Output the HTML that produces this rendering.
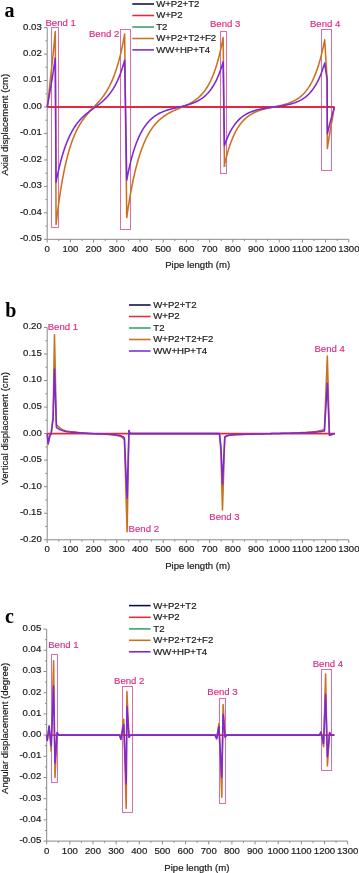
<!DOCTYPE html>
<html><head><meta charset="utf-8"><style>
html,body{margin:0;padding:0;background:#fff;}
svg{display:block;will-change:transform;}
text{font-family:"Liberation Sans",sans-serif;font-size:9.6px;fill:#1a1a1a;stroke:#1a1a1a;stroke-width:0.2px;}
.bd{fill:#dc2a86;stroke:#dc2a86;stroke-width:0.15px;}
.yt{font-size:9.6px;}
.pl{font-family:"Liberation Serif",serif;font-weight:bold;font-size:20px;fill:#000;stroke:none;}
</style></head><body>
<svg width="359" height="873" viewBox="0 0 359 873">
<rect width="359" height="873" fill="#fff"/>
<text x="4.5" y="16.6" class="pl">a</text>
<path d="M44.00,239.30H47.20M45.40,226.07H47.20M44.00,212.84H47.20M45.40,199.61H47.20M44.00,186.38H47.20M45.40,173.15H47.20M44.00,159.92H47.20M45.40,146.69H47.20M44.00,133.46H47.20M45.40,120.23H47.20M44.00,107.00H47.20M45.40,93.77H47.20M44.00,80.54H47.20M45.40,67.31H47.20M44.00,54.08H47.20M45.40,40.85H47.20M44.00,27.62H47.20M47.20,239.30V242.50M58.80,239.30V241.10M70.40,239.30V242.50M82.00,239.30V241.10M93.60,239.30V242.50M105.20,239.30V241.10M116.80,239.30V242.50M128.40,239.30V241.10M140.00,239.30V242.50M151.60,239.30V241.10M163.20,239.30V242.50M174.80,239.30V241.10M186.40,239.30V242.50M198.00,239.30V241.10M209.60,239.30V242.50M221.20,239.30V241.10M232.80,239.30V242.50M244.40,239.30V241.10M256.00,239.30V242.50M267.60,239.30V241.10M279.20,239.30V242.50M290.80,239.30V241.10M302.40,239.30V242.50M314.00,239.30V241.10M325.60,239.30V242.50M337.20,239.30V241.10M348.80,239.30V242.50" fill="none" stroke="#8a8a8a" stroke-width="1"/>
<path d="M47.20,27.62V239.30H348.80" fill="none" stroke="#8a8a8a" stroke-width="1"/>
<text x="41.80" y="241.20" text-anchor="end">-0.05</text>
<text x="41.80" y="214.74" text-anchor="end">-0.04</text>
<text x="41.80" y="188.28" text-anchor="end">-0.03</text>
<text x="41.80" y="161.82" text-anchor="end">-0.02</text>
<text x="41.80" y="135.36" text-anchor="end">-0.01</text>
<text x="41.80" y="108.90" text-anchor="end">0.00</text>
<text x="41.80" y="82.44" text-anchor="end">0.01</text>
<text x="41.80" y="55.98" text-anchor="end">0.02</text>
<text x="41.80" y="29.52" text-anchor="end">0.03</text>
<text x="47.20" y="251.90" text-anchor="middle">0</text>
<text x="70.40" y="251.90" text-anchor="middle">100</text>
<text x="93.60" y="251.90" text-anchor="middle">200</text>
<text x="116.80" y="251.90" text-anchor="middle">300</text>
<text x="140.00" y="251.90" text-anchor="middle">400</text>
<text x="163.20" y="251.90" text-anchor="middle">500</text>
<text x="186.40" y="251.90" text-anchor="middle">600</text>
<text x="209.60" y="251.90" text-anchor="middle">700</text>
<text x="232.80" y="251.90" text-anchor="middle">800</text>
<text x="256.00" y="251.90" text-anchor="middle">900</text>
<text x="279.20" y="251.90" text-anchor="middle">1000</text>
<text x="302.40" y="251.90" text-anchor="middle">1100</text>
<text x="325.60" y="251.90" text-anchor="middle">1200</text>
<text x="348.80" y="251.90" text-anchor="middle">1300</text>
<text x="197.70" y="268.20" text-anchor="middle">Pipe length (m)</text>
<text transform="translate(7.7,124.6) rotate(-90)" text-anchor="middle" class="yt">Axial displacement (cm)</text>
<rect x="51.50" y="27.50" width="7.00" height="200.00" fill="none" stroke="#dc6cb0" stroke-width="1"/>
<rect x="120.50" y="29.50" width="10.00" height="200.00" fill="none" stroke="#dc6cb0" stroke-width="1"/>
<rect x="220.50" y="31.50" width="6.00" height="142.00" fill="none" stroke="#dc6cb0" stroke-width="1"/>
<rect x="321.50" y="29.50" width="10.00" height="141.00" fill="none" stroke="#dc6cb0" stroke-width="1"/>
<path d="M47.30,107.00 L334.42,107.00" fill="none" stroke="#e42a3a" stroke-width="1.8" stroke-linejoin="round" stroke-linecap="butt"/>
<path d="M224.43,165.21 L224.43,166.80" fill="none" stroke="#35a06a" stroke-width="2.0" stroke-linejoin="round" stroke-linecap="butt"/>
<path d="M47.30,107.00 L47.70,103.51 L48.10,100.01 L48.50,96.51 L48.89,93.00 L49.29,89.46 L49.69,85.91 L50.09,82.33 L50.49,78.73 L50.89,75.09 L51.28,71.41 L51.68,67.69 L52.08,63.92 L52.48,60.11 L52.88,56.24 L53.28,52.31 L53.67,48.31 L54.07,44.25 L54.47,40.11 L54.87,35.89 L55.27,31.59 L56.08,224.48 L56.42,221.48 L56.77,218.56 L57.11,215.71 L57.45,212.93 L57.80,210.22 L58.14,207.58 L58.48,205.01 L58.82,202.50 L59.17,200.06 L59.51,197.67 L59.85,195.35 L60.20,193.08 L60.54,190.87 L60.88,188.71 L61.22,186.61 L61.57,184.56 L61.91,182.57 L62.25,180.62 L62.60,178.72 L62.94,176.87 L63.28,175.06 L63.62,173.30 L63.97,171.59 L64.31,169.91 L64.65,168.28 L65.00,166.69 L65.34,165.13 L65.68,163.62 L66.02,162.14 L66.37,160.70 L66.71,159.30 L67.05,157.92 L67.40,156.59 L67.74,155.28 L68.08,154.01 L68.42,152.77 L68.77,151.55 L69.11,150.37 L69.45,149.22 L69.80,148.09 L70.14,146.99 L70.48,145.92 L70.82,144.87 L71.17,143.85 L71.51,142.85 L71.85,141.88 L72.20,140.93 L72.54,140.00 L72.88,139.09 L73.22,138.20 L73.57,137.34 L73.91,136.49 L74.25,135.67 L74.60,134.86 L74.94,134.07 L75.28,133.30 L75.62,132.54 L75.97,131.81 L76.31,131.09 L76.65,130.38 L77.00,129.69 L77.34,129.02 L77.68,128.36 L78.02,127.71 L78.37,127.08 L78.71,126.46 L79.05,125.85 L79.40,125.26 L79.74,124.68 L80.08,124.10 L80.43,123.54 L80.77,123.00 L81.11,122.46 L81.45,121.93 L81.80,121.41 L82.14,120.90 L82.48,120.40 L82.83,119.91 L83.17,119.43 L83.51,118.95 L83.85,118.49 L84.20,118.03 L84.54,117.58 L84.88,117.13 L85.23,116.69 L85.57,116.26 L85.91,115.83 L86.25,115.41 L86.60,115.00 L86.94,114.59 L87.28,114.18 L87.63,113.78 L87.97,113.38 L88.31,112.99 L88.65,112.60 L89.00,112.22 L89.34,111.84 L89.68,111.46 L90.03,111.08 L90.37,110.71 L90.71,110.34 L91.05,109.97 L91.40,109.60 L91.74,109.24 L92.08,108.87 L92.43,108.51 L92.77,108.15 L93.11,107.78 L93.45,107.42 L93.80,107.06 L94.14,106.70 L94.48,106.34 L94.83,105.97 L95.17,105.61 L95.51,105.25 L95.85,104.88 L96.20,104.51 L96.54,104.14 L96.88,103.77 L97.23,103.40 L97.57,103.02 L97.91,102.64 L98.25,102.26 L98.60,101.87 L98.94,101.48 L99.28,101.08 L99.63,100.69 L99.97,100.28 L100.31,99.88 L100.65,99.46 L101.00,99.05 L101.34,98.62 L101.68,98.19 L102.03,97.76 L102.37,97.31 L102.71,96.87 L103.05,96.41 L103.40,95.95 L103.74,95.47 L104.08,94.99 L104.43,94.51 L104.77,94.01 L105.11,93.51 L105.45,92.99 L105.80,92.47 L106.14,91.93 L106.48,91.39 L106.83,90.83 L107.17,90.26 L107.51,89.68 L107.86,89.09 L108.20,88.49 L108.54,87.87 L108.88,87.24 L109.23,86.60 L109.57,85.94 L109.91,85.27 L110.26,84.58 L110.60,83.88 L110.94,83.16 L111.28,82.43 L111.63,81.67 L111.97,80.90 L112.31,80.12 L112.66,79.31 L113.00,78.48 L113.34,77.64 L113.68,76.77 L114.03,75.89 L114.37,74.98 L114.71,74.05 L115.06,73.09 L115.40,72.12 L115.74,71.12 L116.08,70.09 L116.43,69.04 L116.77,67.96 L117.11,66.86 L117.46,65.73 L117.80,64.57 L118.14,63.38 L118.48,62.16 L118.83,60.91 L119.17,59.62 L119.51,58.31 L119.86,56.96 L120.20,55.58 L120.54,54.16 L120.88,52.70 L121.23,51.21 L121.57,49.67 L121.91,48.10 L122.26,46.49 L122.60,44.84 L122.94,43.14 L123.28,41.40 L123.63,39.61 L123.97,37.78 L124.31,35.90 L124.66,33.97 L126.75,217.60 L127.23,214.21 L127.71,210.92 L128.19,207.73 L128.67,204.64 L129.16,201.65 L129.64,198.74 L130.12,195.93 L130.60,193.20 L131.08,190.55 L131.57,187.99 L132.05,185.50 L132.53,183.09 L133.01,180.76 L133.49,178.49 L133.98,176.30 L134.46,174.17 L134.94,172.10 L135.42,170.10 L135.91,168.16 L136.39,166.28 L136.87,164.46 L137.35,162.69 L137.83,160.98 L138.32,159.32 L138.80,157.71 L139.28,156.15 L139.76,154.63 L140.24,153.16 L140.73,151.74 L141.21,150.36 L141.69,149.02 L142.17,147.73 L142.65,146.47 L143.14,145.25 L143.62,144.07 L144.10,142.92 L144.58,141.81 L145.06,140.73 L145.55,139.68 L146.03,138.67 L146.51,137.69 L146.99,136.73 L147.47,135.81 L147.96,134.91 L148.44,134.04 L148.92,133.20 L149.40,132.38 L149.88,131.58 L150.37,130.81 L150.85,130.06 L151.33,129.34 L151.81,128.63 L152.29,127.95 L152.78,127.29 L153.26,126.64 L153.74,126.02 L154.22,125.41 L154.70,124.83 L155.19,124.25 L155.67,123.70 L156.15,123.16 L156.63,122.64 L157.11,122.13 L157.60,121.63 L158.08,121.16 L158.56,120.69 L159.04,120.24 L159.52,119.79 L160.01,119.37 L160.49,118.95 L160.97,118.54 L161.45,118.15 L161.93,117.77 L162.42,117.39 L162.90,117.03 L163.38,116.67 L163.86,116.33 L164.34,115.99 L164.83,115.66 L165.31,115.34 L165.79,115.03 L166.27,114.73 L166.75,114.43 L167.24,114.14 L167.72,113.85 L168.20,113.58 L168.68,113.30 L169.16,113.04 L169.65,112.78 L170.13,112.52 L170.61,112.27 L171.09,112.02 L171.57,111.78 L172.06,111.54 L172.54,111.31 L173.02,111.08 L173.50,110.85 L173.98,110.63 L174.47,110.40 L174.95,110.19 L175.43,109.97 L175.91,109.76 L176.39,109.54 L176.88,109.33 L177.36,109.12 L177.84,108.92 L178.32,108.71 L178.81,108.50 L179.29,108.30 L179.77,108.09 L180.25,107.89 L180.73,107.68 L181.22,107.48 L181.70,107.27 L182.18,107.06 L182.66,106.85 L183.14,106.65 L183.63,106.43 L184.11,106.22 L184.59,106.01 L185.07,105.79 L185.55,105.57 L186.04,105.34 L186.52,105.12 L187.00,104.89 L187.48,104.65 L187.96,104.42 L188.45,104.17 L188.93,103.93 L189.41,103.67 L189.89,103.42 L190.37,103.15 L190.86,102.89 L191.34,102.61 L191.82,102.33 L192.30,102.04 L192.78,101.74 L193.27,101.44 L193.75,101.13 L194.23,100.81 L194.71,100.48 L195.19,100.14 L195.68,99.79 L196.16,99.43 L196.64,99.06 L197.12,98.68 L197.60,98.28 L198.09,97.88 L198.57,97.46 L199.05,97.03 L199.53,96.58 L200.01,96.12 L200.50,95.64 L200.98,95.15 L201.46,94.64 L201.94,94.12 L202.42,93.57 L202.91,93.01 L203.39,92.43 L203.87,91.83 L204.35,91.21 L204.83,90.56 L205.32,89.89 L205.80,89.20 L206.28,88.49 L206.76,87.75 L207.24,86.98 L207.73,86.18 L208.21,85.36 L208.69,84.51 L209.17,83.62 L209.65,82.71 L210.14,81.76 L210.62,80.77 L211.10,79.75 L211.58,78.69 L212.06,77.60 L212.55,76.46 L213.03,75.28 L213.51,74.06 L213.99,72.79 L214.47,71.48 L214.96,70.11 L215.44,68.70 L215.92,67.23 L216.40,65.71 L216.88,64.14 L217.37,62.50 L217.85,60.81 L218.33,59.05 L218.81,57.22 L219.29,55.33 L219.78,53.37 L220.26,51.33 L220.74,49.22 L221.22,47.03 L221.71,44.75 L222.19,42.40 L222.67,39.95 L223.15,37.41 L224.43,165.21 L224.93,163.02 L225.43,160.90 L225.93,158.87 L226.43,156.91 L226.94,155.03 L227.44,153.22 L227.94,151.47 L228.44,149.79 L228.94,148.18 L229.44,146.62 L229.94,145.12 L230.44,143.68 L230.95,142.30 L231.45,140.96 L231.95,139.68 L232.45,138.44 L232.95,137.25 L233.45,136.11 L233.95,135.01 L234.45,133.95 L234.96,132.93 L235.46,131.94 L235.96,131.00 L236.46,130.09 L236.96,129.21 L237.46,128.37 L237.96,127.56 L238.47,126.78 L238.97,126.02 L239.47,125.30 L239.97,124.60 L240.47,123.93 L240.97,123.29 L241.47,122.66 L241.97,122.06 L242.48,121.49 L242.98,120.93 L243.48,120.40 L243.98,119.88 L244.48,119.39 L244.98,118.91 L245.48,118.45 L245.98,118.00 L246.49,117.58 L246.99,117.17 L247.49,116.77 L247.99,116.39 L248.49,116.02 L248.99,115.66 L249.49,115.32 L250.00,114.99 L250.50,114.67 L251.00,114.37 L251.50,114.07 L252.00,113.79 L252.50,113.51 L253.00,113.24 L253.50,112.99 L254.01,112.74 L254.51,112.50 L255.01,112.27 L255.51,112.05 L256.01,111.83 L256.51,111.62 L257.01,111.42 L257.51,111.22 L258.02,111.04 L258.52,110.85 L259.02,110.67 L259.52,110.50 L260.02,110.34 L260.52,110.17 L261.02,110.02 L261.53,109.86 L262.03,109.71 L262.53,109.57 L263.03,109.43 L263.53,109.29 L264.03,109.16 L264.53,109.03 L265.03,108.90 L265.54,108.77 L266.04,108.65 L266.54,108.53 L267.04,108.41 L267.54,108.30 L268.04,108.18 L268.54,108.07 L269.04,107.96 L269.55,107.85 L270.05,107.75 L270.55,107.64 L271.05,107.53 L271.55,107.43 L272.05,107.32 L272.55,107.22 L273.06,107.12 L273.56,107.01 L274.06,106.91 L274.56,106.81 L275.06,106.70 L275.56,106.60 L276.06,106.49 L276.56,106.39 L277.07,106.28 L277.57,106.18 L278.07,106.07 L278.57,105.96 L279.07,105.85 L279.57,105.73 L280.07,105.62 L280.57,105.50 L281.08,105.38 L281.58,105.26 L282.08,105.13 L282.58,105.01 L283.08,104.88 L283.58,104.74 L284.08,104.61 L284.59,104.47 L285.09,104.32 L285.59,104.18 L286.09,104.02 L286.59,103.87 L287.09,103.71 L287.59,103.54 L288.09,103.37 L288.60,103.20 L289.10,103.01 L289.60,102.83 L290.10,102.63 L290.60,102.43 L291.10,102.22 L291.60,102.01 L292.10,101.79 L292.61,101.56 L293.11,101.32 L293.61,101.08 L294.11,100.82 L294.61,100.56 L295.11,100.29 L295.61,100.00 L296.12,99.71 L296.62,99.41 L297.12,99.09 L297.62,98.77 L298.12,98.43 L298.62,98.08 L299.12,97.71 L299.62,97.33 L300.13,96.94 L300.63,96.53 L301.13,96.11 L301.63,95.67 L302.13,95.21 L302.63,94.74 L303.13,94.25 L303.63,93.74 L304.14,93.21 L304.64,92.66 L305.14,92.09 L305.64,91.50 L306.14,90.88 L306.64,90.24 L307.14,89.58 L307.65,88.89 L308.15,88.17 L308.65,87.42 L309.15,86.65 L309.65,85.85 L310.15,85.01 L310.65,84.14 L311.15,83.24 L311.66,82.31 L312.16,81.33 L312.66,80.32 L313.16,79.27 L313.66,78.18 L314.16,77.05 L314.66,75.87 L315.16,74.65 L315.67,73.38 L316.17,72.06 L316.67,70.68 L317.17,69.26 L317.67,67.78 L318.17,66.24 L318.67,64.64 L319.18,62.98 L319.68,61.25 L320.18,59.45 L320.68,57.59 L321.18,55.65 L321.68,53.64 L322.18,51.55 L322.68,49.37 L323.19,47.11 L323.69,44.77 L324.19,42.33 L324.69,39.79 L327.13,79.75 L327.34,148.54 L327.69,146.23 L328.05,143.96 L328.40,141.72 L328.75,139.51 L329.11,137.34 L329.46,135.19 L329.82,133.07 L330.17,130.97 L330.53,128.90 L330.88,126.84 L331.23,124.80 L331.59,122.78 L331.94,120.78 L332.30,118.79 L332.65,116.81 L333.01,114.83 L333.36,112.87 L333.71,110.91 L334.07,108.95 L334.42,107.00" fill="none" stroke="#c9711f" stroke-width="1.55" stroke-linejoin="round" stroke-linecap="butt"/>
<path d="M47.30,107.00 L47.70,104.73 L48.10,102.47 L48.50,100.19 L48.89,97.91 L49.29,95.62 L49.69,93.31 L50.09,90.99 L50.49,88.65 L50.89,86.28 L51.28,83.90 L51.68,81.48 L52.08,79.04 L52.48,76.56 L52.88,74.05 L53.28,71.50 L53.67,68.90 L54.07,66.26 L54.47,63.58 L54.87,60.84 L55.27,58.05 L56.08,182.15 L56.42,180.38 L56.77,178.65 L57.11,176.97 L57.45,175.32 L57.80,173.71 L58.14,172.14 L58.48,170.61 L58.82,169.11 L59.17,167.64 L59.51,166.21 L59.85,164.81 L60.20,163.45 L60.54,162.11 L60.88,160.81 L61.22,159.54 L61.57,158.29 L61.91,157.08 L62.25,155.89 L62.60,154.73 L62.94,153.59 L63.28,152.48 L63.62,151.40 L63.97,150.34 L64.31,149.31 L64.65,148.30 L65.00,147.31 L65.34,146.34 L65.68,145.40 L66.02,144.48 L66.37,143.58 L66.71,142.70 L67.05,141.84 L67.40,140.99 L67.74,140.17 L68.08,139.37 L68.42,138.58 L68.77,137.81 L69.11,137.06 L69.45,136.32 L69.80,135.61 L70.14,134.90 L70.48,134.21 L70.82,133.54 L71.17,132.88 L71.51,132.24 L71.85,131.61 L72.20,131.00 L72.54,130.39 L72.88,129.80 L73.22,129.23 L73.57,128.66 L73.91,128.11 L74.25,127.57 L74.60,127.04 L74.94,126.52 L75.28,126.01 L75.62,125.51 L75.97,125.02 L76.31,124.55 L76.65,124.08 L77.00,123.62 L77.34,123.17 L77.68,122.73 L78.02,122.30 L78.37,121.87 L78.71,121.46 L79.05,121.05 L79.40,120.65 L79.74,120.26 L80.08,119.87 L80.43,119.49 L80.77,119.12 L81.11,118.76 L81.45,118.40 L81.80,118.05 L82.14,117.70 L82.48,117.36 L82.83,117.02 L83.17,116.69 L83.51,116.37 L83.85,116.05 L84.20,115.73 L84.54,115.42 L84.88,115.12 L85.23,114.81 L85.57,114.52 L85.91,114.22 L86.25,113.93 L86.60,113.64 L86.94,113.36 L87.28,113.08 L87.63,112.80 L87.97,112.53 L88.31,112.26 L88.65,111.99 L89.00,111.72 L89.34,111.46 L89.68,111.19 L90.03,110.93 L90.37,110.67 L90.71,110.42 L91.05,110.16 L91.40,109.91 L91.74,109.65 L92.08,109.40 L92.43,109.15 L92.77,108.90 L93.11,108.65 L93.45,108.40 L93.80,108.15 L94.14,107.90 L94.48,107.65 L94.83,107.40 L95.17,107.15 L95.51,106.90 L95.85,106.64 L96.20,106.39 L96.54,106.14 L96.88,105.88 L97.23,105.63 L97.57,105.37 L97.91,105.11 L98.25,104.85 L98.60,104.58 L98.94,104.32 L99.28,104.05 L99.63,103.78 L99.97,103.50 L100.31,103.23 L100.65,102.95 L101.00,102.67 L101.34,102.38 L101.68,102.09 L102.03,101.80 L102.37,101.50 L102.71,101.20 L103.05,100.89 L103.40,100.58 L103.74,100.26 L104.08,99.94 L104.43,99.62 L104.77,99.29 L105.11,98.95 L105.45,98.61 L105.80,98.26 L106.14,97.90 L106.48,97.54 L106.83,97.17 L107.17,96.79 L107.51,96.41 L107.86,96.02 L108.20,95.62 L108.54,95.21 L108.88,94.80 L109.23,94.38 L109.57,93.94 L109.91,93.50 L110.26,93.05 L110.60,92.59 L110.94,92.11 L111.28,91.63 L111.63,91.14 L111.97,90.63 L112.31,90.12 L112.66,89.59 L113.00,89.05 L113.34,88.50 L113.68,87.93 L114.03,87.35 L114.37,86.76 L114.71,86.16 L115.06,85.53 L115.40,84.90 L115.74,84.25 L116.08,83.58 L116.43,82.89 L116.77,82.19 L117.11,81.48 L117.46,80.74 L117.80,79.99 L118.14,79.21 L118.48,78.42 L118.83,77.61 L119.17,76.78 L119.51,75.92 L119.86,75.05 L120.20,74.15 L120.54,73.23 L120.88,72.29 L121.23,71.32 L121.57,70.33 L121.91,69.31 L122.26,68.27 L122.60,67.20 L122.94,66.10 L123.28,64.97 L123.63,63.82 L123.97,62.63 L124.31,61.41 L124.66,60.17 L126.75,180.03 L127.23,177.50 L127.71,175.05 L128.19,172.69 L128.67,170.41 L129.16,168.21 L129.64,166.09 L130.12,164.04 L130.60,162.06 L131.08,160.15 L131.57,158.30 L132.05,156.52 L132.53,154.80 L133.01,153.14 L133.49,151.54 L133.98,149.99 L134.46,148.50 L134.94,147.06 L135.42,145.66 L135.91,144.32 L136.39,143.02 L136.87,141.77 L137.35,140.56 L137.83,139.39 L138.32,138.26 L138.80,137.18 L139.28,136.12 L139.76,135.11 L140.24,134.13 L140.73,133.18 L141.21,132.27 L141.69,131.39 L142.17,130.54 L142.65,129.71 L143.14,128.92 L143.62,128.15 L144.10,127.41 L144.58,126.70 L145.06,126.01 L145.55,125.34 L146.03,124.70 L146.51,124.07 L146.99,123.47 L147.47,122.89 L147.96,122.33 L148.44,121.79 L148.92,121.27 L149.40,120.76 L149.88,120.27 L150.37,119.80 L150.85,119.34 L151.33,118.90 L151.81,118.48 L152.29,118.07 L152.78,117.67 L153.26,117.28 L153.74,116.91 L154.22,116.55 L154.70,116.20 L155.19,115.87 L155.67,115.54 L156.15,115.23 L156.63,114.92 L157.11,114.63 L157.60,114.34 L158.08,114.07 L158.56,113.80 L159.04,113.54 L159.52,113.29 L160.01,113.05 L160.49,112.81 L160.97,112.58 L161.45,112.36 L161.93,112.15 L162.42,111.94 L162.90,111.74 L163.38,111.54 L163.86,111.35 L164.34,111.16 L164.83,110.98 L165.31,110.81 L165.79,110.64 L166.27,110.47 L166.75,110.31 L167.24,110.15 L167.72,110.00 L168.20,109.84 L168.68,109.70 L169.16,109.55 L169.65,109.41 L170.13,109.27 L170.61,109.14 L171.09,109.01 L171.57,108.88 L172.06,108.75 L172.54,108.62 L173.02,108.50 L173.50,108.38 L173.98,108.26 L174.47,108.14 L174.95,108.02 L175.43,107.90 L175.91,107.79 L176.39,107.67 L176.88,107.56 L177.36,107.44 L177.84,107.33 L178.32,107.22 L178.81,107.10 L179.29,106.99 L179.77,106.88 L180.25,106.76 L180.73,106.65 L181.22,106.53 L181.70,106.42 L182.18,106.30 L182.66,106.18 L183.14,106.07 L183.63,105.95 L184.11,105.82 L184.59,105.70 L185.07,105.57 L185.55,105.45 L186.04,105.32 L186.52,105.18 L187.00,105.05 L187.48,104.91 L187.96,104.77 L188.45,104.63 L188.93,104.48 L189.41,104.33 L189.89,104.18 L190.37,104.02 L190.86,103.86 L191.34,103.69 L191.82,103.52 L192.30,103.34 L192.78,103.16 L193.27,102.97 L193.75,102.78 L194.23,102.58 L194.71,102.38 L195.19,102.17 L195.68,101.95 L196.16,101.73 L196.64,101.50 L197.12,101.26 L197.60,101.01 L198.09,100.76 L198.57,100.49 L199.05,100.22 L199.53,99.94 L200.01,99.65 L200.50,99.35 L200.98,99.03 L201.46,98.71 L201.94,98.38 L202.42,98.03 L202.91,97.67 L203.39,97.30 L203.87,96.92 L204.35,96.52 L204.83,96.11 L205.32,95.68 L205.80,95.24 L206.28,94.78 L206.76,94.30 L207.24,93.81 L207.73,93.30 L208.21,92.77 L208.69,92.22 L209.17,91.65 L209.65,91.06 L210.14,90.45 L210.62,89.81 L211.10,89.16 L211.58,88.47 L212.06,87.77 L212.55,87.03 L213.03,86.27 L213.51,85.48 L213.99,84.66 L214.47,83.81 L214.96,82.93 L215.44,82.02 L215.92,81.07 L216.40,80.09 L216.88,79.07 L217.37,78.01 L217.85,76.91 L218.33,75.77 L218.81,74.59 L219.29,73.37 L219.78,72.09 L220.26,70.77 L220.74,69.41 L221.22,67.99 L221.71,66.51 L222.19,64.98 L222.67,63.40 L223.15,61.75 L224.43,145.63 L224.93,144.17 L225.43,142.77 L225.93,141.42 L226.43,140.12 L226.94,138.87 L227.44,137.67 L227.94,136.51 L228.44,135.40 L228.94,134.33 L229.44,133.29 L229.94,132.30 L230.44,131.35 L230.95,130.43 L231.45,129.54 L231.95,128.69 L232.45,127.87 L232.95,127.08 L233.45,126.32 L233.95,125.59 L234.45,124.88 L234.96,124.21 L235.46,123.55 L235.96,122.93 L236.46,122.32 L236.96,121.74 L237.46,121.18 L237.96,120.64 L238.47,120.13 L238.97,119.63 L239.47,119.15 L239.97,118.68 L240.47,118.24 L240.97,117.81 L241.47,117.40 L241.97,117.00 L242.48,116.62 L242.98,116.25 L243.48,115.89 L243.98,115.55 L244.48,115.22 L244.98,114.90 L245.48,114.60 L245.98,114.30 L246.49,114.02 L246.99,113.75 L247.49,113.49 L247.99,113.23 L248.49,112.99 L248.99,112.75 L249.49,112.52 L250.00,112.31 L250.50,112.10 L251.00,111.89 L251.50,111.70 L252.00,111.51 L252.50,111.32 L253.00,111.15 L253.50,110.98 L254.01,110.81 L254.51,110.65 L255.01,110.50 L255.51,110.35 L256.01,110.21 L256.51,110.07 L257.01,109.94 L257.51,109.81 L258.02,109.68 L258.52,109.56 L259.02,109.44 L259.52,109.33 L260.02,109.22 L260.52,109.11 L261.02,109.01 L261.53,108.91 L262.03,108.81 L262.53,108.71 L263.03,108.62 L263.53,108.53 L264.03,108.44 L264.53,108.35 L265.03,108.27 L265.54,108.18 L266.04,108.10 L266.54,108.02 L267.04,107.95 L267.54,107.87 L268.04,107.79 L268.54,107.72 L269.04,107.65 L269.55,107.58 L270.05,107.50 L270.55,107.43 L271.05,107.36 L271.55,107.30 L272.05,107.23 L272.55,107.16 L273.06,107.09 L273.56,107.02 L274.06,106.95 L274.56,106.89 L275.06,106.82 L275.56,106.75 L276.06,106.68 L276.56,106.61 L277.07,106.54 L277.57,106.47 L278.07,106.40 L278.57,106.33 L279.07,106.25 L279.57,106.18 L280.07,106.10 L280.57,106.03 L281.08,105.95 L281.58,105.87 L282.08,105.79 L282.58,105.70 L283.08,105.62 L283.58,105.53 L284.08,105.44 L284.59,105.35 L285.09,105.26 L285.59,105.16 L286.09,105.06 L286.59,104.96 L287.09,104.85 L287.59,104.74 L288.09,104.63 L288.60,104.52 L289.10,104.40 L289.60,104.28 L290.10,104.15 L290.60,104.02 L291.10,103.88 L291.60,103.74 L292.10,103.60 L292.61,103.45 L293.11,103.29 L293.61,103.13 L294.11,102.97 L294.61,102.79 L295.11,102.62 L295.61,102.43 L296.12,102.24 L296.62,102.04 L297.12,101.83 L297.62,101.62 L298.12,101.40 L298.62,101.17 L299.12,100.93 L299.62,100.68 L300.13,100.43 L300.63,100.16 L301.13,99.88 L301.63,99.60 L302.13,99.30 L302.63,98.99 L303.13,98.67 L303.63,98.34 L304.14,97.99 L304.64,97.63 L305.14,97.26 L305.64,96.87 L306.14,96.47 L306.64,96.05 L307.14,95.61 L307.65,95.16 L308.15,94.69 L308.65,94.21 L309.15,93.70 L309.65,93.18 L310.15,92.63 L310.65,92.06 L311.15,91.47 L311.66,90.86 L312.16,90.23 L312.66,89.57 L313.16,88.88 L313.66,88.17 L314.16,87.43 L314.66,86.66 L315.16,85.86 L315.67,85.03 L316.17,84.16 L316.67,83.27 L317.17,82.33 L317.67,81.37 L318.17,80.36 L318.67,79.32 L319.18,78.23 L319.68,77.10 L320.18,75.93 L320.68,74.71 L321.18,73.44 L321.68,72.13 L322.18,70.76 L322.68,69.34 L323.19,67.86 L323.69,66.33 L324.19,64.73 L324.69,63.08 L327.13,79.75 L327.34,133.72 L327.69,132.24 L328.05,130.78 L328.40,129.34 L328.75,127.92 L329.11,126.52 L329.46,125.14 L329.82,123.77 L330.17,122.42 L330.53,121.09 L330.88,119.76 L331.23,118.45 L331.59,117.15 L331.94,115.86 L332.30,114.58 L332.65,113.31 L333.01,112.04 L333.36,110.78 L333.71,109.52 L334.07,108.26 L334.42,107.00" fill="none" stroke="#7c28d8" stroke-width="1.55" stroke-linejoin="round" stroke-linecap="butt"/>
<text class="bd" x="45.40" y="25.80">Bend 1</text>
<text class="bd" x="88.90" y="36.80">Bend 2</text>
<text class="bd" x="209.90" y="26.60">Bend 3</text>
<text class="bd" x="309.90" y="27.20">Bend 4</text>
<path d="M132.30,4.00H154.00" stroke="#0c0c44" stroke-width="1.55"/>
<text x="156.20" y="6.90">W+P2+T2</text>
<path d="M132.30,15.50H154.00" stroke="#e42a3a" stroke-width="1.55"/>
<text x="156.20" y="18.40">W+P2</text>
<path d="M132.30,27.00H154.00" stroke="#35a06a" stroke-width="1.55"/>
<text x="156.20" y="29.90">T2</text>
<path d="M132.30,38.50H154.00" stroke="#c9711f" stroke-width="1.55"/>
<text x="156.20" y="41.40">W+P2+T2+F2</text>
<path d="M132.30,49.90H154.00" stroke="#7c28d8" stroke-width="1.55"/>
<text x="156.20" y="52.80">WW+HP+T4</text>
<text x="5.2" y="316.9" class="pl">b</text>
<path d="M44.00,539.80H47.20M45.40,526.53H47.20M44.00,513.25H47.20M45.40,499.98H47.20M44.00,486.70H47.20M45.40,473.43H47.20M44.00,460.15H47.20M45.40,446.88H47.20M44.00,433.60H47.20M45.40,420.33H47.20M44.00,407.05H47.20M45.40,393.78H47.20M44.00,380.50H47.20M45.40,367.23H47.20M44.00,353.95H47.20M45.40,340.68H47.20M44.00,327.40H47.20M47.20,539.80V543.00M58.80,539.80V541.60M70.40,539.80V543.00M82.00,539.80V541.60M93.60,539.80V543.00M105.20,539.80V541.60M116.80,539.80V543.00M128.40,539.80V541.60M140.00,539.80V543.00M151.60,539.80V541.60M163.20,539.80V543.00M174.80,539.80V541.60M186.40,539.80V543.00M198.00,539.80V541.60M209.60,539.80V543.00M221.20,539.80V541.60M232.80,539.80V543.00M244.40,539.80V541.60M256.00,539.80V543.00M267.60,539.80V541.60M279.20,539.80V543.00M290.80,539.80V541.60M302.40,539.80V543.00M314.00,539.80V541.60M325.60,539.80V543.00M337.20,539.80V541.60M348.80,539.80V543.00" fill="none" stroke="#8a8a8a" stroke-width="1"/>
<path d="M47.20,327.40V539.80H348.80" fill="none" stroke="#8a8a8a" stroke-width="1"/>
<text x="41.80" y="541.70" text-anchor="end">-0.20</text>
<text x="41.80" y="515.15" text-anchor="end">-0.15</text>
<text x="41.80" y="488.60" text-anchor="end">-0.10</text>
<text x="41.80" y="462.05" text-anchor="end">-0.05</text>
<text x="41.80" y="435.50" text-anchor="end">0.00</text>
<text x="41.80" y="408.95" text-anchor="end">0.05</text>
<text x="41.80" y="382.40" text-anchor="end">0.10</text>
<text x="41.80" y="355.85" text-anchor="end">0.15</text>
<text x="41.80" y="329.30" text-anchor="end">0.20</text>
<text x="47.20" y="552.40" text-anchor="middle">0</text>
<text x="70.40" y="552.40" text-anchor="middle">100</text>
<text x="93.60" y="552.40" text-anchor="middle">200</text>
<text x="116.80" y="552.40" text-anchor="middle">300</text>
<text x="140.00" y="552.40" text-anchor="middle">400</text>
<text x="163.20" y="552.40" text-anchor="middle">500</text>
<text x="186.40" y="552.40" text-anchor="middle">600</text>
<text x="209.60" y="552.40" text-anchor="middle">700</text>
<text x="232.80" y="552.40" text-anchor="middle">800</text>
<text x="256.00" y="552.40" text-anchor="middle">900</text>
<text x="279.20" y="552.40" text-anchor="middle">1000</text>
<text x="302.40" y="552.40" text-anchor="middle">1100</text>
<text x="325.60" y="552.40" text-anchor="middle">1200</text>
<text x="348.80" y="552.40" text-anchor="middle">1300</text>
<text x="197.70" y="568.70" text-anchor="middle">Pipe length (m)</text>
<text transform="translate(7.7,428.4) rotate(-90)" text-anchor="middle" class="yt">Vertical displacement (cm)</text>
<path d="M47.30,433.60 L334.77,433.60" fill="none" stroke="#e42a3a" stroke-width="1.8" stroke-linejoin="round" stroke-linecap="butt"/>
<path d="M47.30,433.60 L48.14,444.19 L49.97,435.19 L51.13,433.87 L53.11,415.68 L54.48,334.83 L56.41,424.57 L56.72,424.88 L57.03,425.19 L57.35,425.50 L57.66,425.81 L57.97,426.12 L58.29,426.42 L58.60,426.70 L58.91,426.96 L59.35,427.31 L59.79,427.65 L60.22,427.97 L60.66,428.29 L61.09,428.58 L61.53,428.86 L61.96,429.12 L62.40,429.35 L62.89,429.60 L63.39,429.85 L63.88,430.08 L64.37,430.30 L64.87,430.50 L65.36,430.67 L65.85,430.82 L66.35,430.95 L67.63,431.19 L68.90,431.41 L70.18,431.59 L71.46,431.74 L72.74,431.88 L74.01,432.01 L75.29,432.14 L76.57,432.27 L78.37,432.47 L80.17,432.66 L81.97,432.84 L83.77,433.02 L85.57,433.18 L87.37,433.34 L89.17,433.48 L90.97,433.60 L93.03,433.72 L95.10,433.82 L97.16,433.90 L99.22,433.98 L101.28,434.06 L103.34,434.15 L105.40,434.26 L107.47,434.40 L108.77,434.50 L110.08,434.61 L111.39,434.74 L112.69,434.89 L114.00,435.06 L115.31,435.25 L116.61,435.47 L117.92,435.72 L118.44,435.84 L118.96,435.98 L119.49,436.13 L120.01,436.31 L120.53,436.52 L121.06,436.76 L121.58,437.02 L122.10,437.32 L122.39,437.53 L122.68,437.80 L122.97,438.13 L123.26,438.49 L123.55,438.87 L123.84,439.25 L124.13,439.62 L124.42,439.97 L127.10,531.84 L128.95,430.57 L130.11,433.60 L219.43,433.60 L220.94,452.72 L222.45,510.06 L224.78,437.42 L225.10,437.23 L225.42,437.02 L225.74,436.80 L226.05,436.59 L226.37,436.39 L226.69,436.21 L227.01,436.05 L227.33,435.94 L227.94,435.76 L228.55,435.61 L229.16,435.48 L229.77,435.36 L230.38,435.25 L230.99,435.17 L231.60,435.09 L232.21,435.03 L233.78,434.91 L235.35,434.80 L236.91,434.71 L238.48,434.63 L240.05,434.56 L241.62,434.50 L243.19,434.45 L244.75,434.40 L246.93,434.33 L249.11,434.27 L251.29,434.22 L253.47,434.17 L255.64,434.13 L257.82,434.08 L260.00,434.03 L262.18,433.97 L263.48,433.93 L264.79,433.89 L266.10,433.84 L267.40,433.79 L268.71,433.74 L270.02,433.69 L271.32,433.64 L272.63,433.60 L274.95,433.53 L277.28,433.47 L279.60,433.40 L281.92,433.34 L284.25,433.28 L286.57,433.22 L288.89,433.15 L291.22,433.07 L293.25,432.99 L295.28,432.91 L297.31,432.83 L299.35,432.73 L301.38,432.63 L303.41,432.52 L305.44,432.40 L307.48,432.27 L308.64,432.19 L309.80,432.10 L310.96,432.01 L312.12,431.90 L313.28,431.79 L314.44,431.66 L315.61,431.52 L316.77,431.37 L317.35,431.28 L317.93,431.19 L318.51,431.08 L319.09,430.97 L319.67,430.84 L320.25,430.71 L320.83,430.56 L321.41,430.41 L321.79,430.31 L322.17,430.19 L322.55,430.05 L322.92,429.92 L323.30,429.77 L323.68,429.63 L324.06,429.49 L324.43,429.35 L327.34,356.07 L329.43,435.19 L334.77,433.60" fill="none" stroke="#c9711f" stroke-width="1.55" stroke-linejoin="round" stroke-linecap="butt"/>
<path d="M47.30,433.60 L48.14,443.69 L49.97,435.19 L51.13,433.87 L53.11,419.26 L54.48,369.35 L56.41,427.49 L56.72,427.70 L57.03,427.91 L57.35,428.12 L57.66,428.33 L57.97,428.54 L58.29,428.73 L58.60,428.92 L58.91,429.09 L59.35,429.30 L59.79,429.50 L60.22,429.69 L60.66,429.87 L61.09,430.05 L61.53,430.21 L61.96,430.37 L62.40,430.52 L62.89,430.69 L63.39,430.87 L63.88,431.04 L64.37,431.20 L64.87,431.36 L65.36,431.49 L65.85,431.60 L66.35,431.69 L67.63,431.85 L68.90,431.99 L70.18,432.10 L71.46,432.19 L72.74,432.28 L74.01,432.36 L75.29,432.44 L76.57,432.54 L78.37,432.68 L80.17,432.83 L81.97,432.98 L83.77,433.12 L85.57,433.26 L87.37,433.39 L89.17,433.50 L90.97,433.60 L93.03,433.69 L95.10,433.76 L97.16,433.82 L99.22,433.88 L101.28,433.94 L103.34,434.01 L105.40,434.09 L107.47,434.18 L108.77,434.26 L110.08,434.35 L111.39,434.45 L112.69,434.56 L114.00,434.69 L115.31,434.84 L116.61,435.01 L117.92,435.19 L118.44,435.28 L118.96,435.37 L119.49,435.48 L120.01,435.60 L120.53,435.74 L121.06,435.89 L121.58,436.06 L122.10,436.25 L122.39,436.39 L122.68,436.56 L122.97,436.75 L123.26,436.96 L123.55,437.19 L123.84,437.42 L124.13,437.64 L124.42,437.85 L127.10,498.38 L128.95,430.57 L130.11,433.60 L219.43,433.60 L220.94,446.21 L222.45,484.05 L224.78,437.00 L225.10,436.82 L225.42,436.62 L225.74,436.42 L226.05,436.22 L226.37,436.04 L226.69,435.87 L227.01,435.73 L227.33,435.62 L227.94,435.46 L228.55,435.31 L229.16,435.18 L229.77,435.07 L230.38,434.97 L230.99,434.88 L231.60,434.82 L232.21,434.77 L233.78,434.67 L235.35,434.59 L236.91,434.52 L238.48,434.46 L240.05,434.42 L241.62,434.37 L243.19,434.33 L244.75,434.29 L246.93,434.23 L249.11,434.18 L251.29,434.14 L253.47,434.10 L255.64,434.06 L257.82,434.02 L260.00,433.97 L262.18,433.92 L263.48,433.88 L264.79,433.84 L266.10,433.80 L267.40,433.76 L268.71,433.72 L270.02,433.68 L271.32,433.64 L272.63,433.60 L274.95,433.54 L277.28,433.49 L279.60,433.44 L281.92,433.39 L284.25,433.34 L286.57,433.29 L288.89,433.23 L291.22,433.18 L293.25,433.12 L295.28,433.07 L297.31,433.01 L299.35,432.95 L301.38,432.88 L303.41,432.81 L305.44,432.73 L307.48,432.64 L308.64,432.59 L309.80,432.52 L310.96,432.45 L312.12,432.37 L313.28,432.29 L314.44,432.20 L315.61,432.11 L316.77,432.01 L317.35,431.95 L317.93,431.90 L318.51,431.84 L319.09,431.77 L319.67,431.70 L320.25,431.63 L320.83,431.56 L321.41,431.48 L321.79,431.42 L322.17,431.36 L322.55,431.29 L322.92,431.22 L323.30,431.15 L323.68,431.08 L324.06,431.01 L324.43,430.95 L327.34,383.31 L329.43,435.19 L334.77,433.60" fill="none" stroke="#7c28d8" stroke-width="1.55" stroke-linejoin="round" stroke-linecap="butt"/>
<text class="bd" x="47.70" y="329.90">Bend 1</text>
<text class="bd" x="128.60" y="532.20">Bend 2</text>
<text class="bd" x="209.30" y="519.80">Bend 3</text>
<text class="bd" x="314.40" y="352.40">Bend 4</text>
<path d="M129.00,305.00H150.60" stroke="#0c0c44" stroke-width="1.55"/>
<text x="153.30" y="307.90">W+P2+T2</text>
<path d="M129.00,316.50H150.60" stroke="#e42a3a" stroke-width="1.55"/>
<text x="153.30" y="319.40">W+P2</text>
<path d="M129.00,328.00H150.60" stroke="#35a06a" stroke-width="1.55"/>
<text x="153.30" y="330.90">T2</text>
<path d="M129.00,339.50H150.60" stroke="#c9711f" stroke-width="1.55"/>
<text x="153.30" y="342.40">W+P2+T2+F2</text>
<path d="M129.00,351.00H150.60" stroke="#7c28d8" stroke-width="1.55"/>
<text x="153.30" y="353.90">WW+HP+T4</text>
<text x="5.0" y="623.0" class="pl">c</text>
<path d="M43.50,841.10H46.70M44.90,830.50H46.70M43.50,819.90H46.70M44.90,809.30H46.70M43.50,798.70H46.70M44.90,788.10H46.70M43.50,777.50H46.70M44.90,766.90H46.70M43.50,756.30H46.70M44.90,745.70H46.70M43.50,735.10H46.70M44.90,724.50H46.70M43.50,713.90H46.70M44.90,703.30H46.70M43.50,692.70H46.70M44.90,682.10H46.70M43.50,671.50H46.70M44.90,660.90H46.70M43.50,650.30H46.70M44.90,639.70H46.70M43.50,629.10H46.70M46.70,841.10V844.30M58.28,841.10V842.90M69.85,841.10V844.30M81.43,841.10V842.90M93.00,841.10V844.30M104.58,841.10V842.90M116.15,841.10V844.30M127.73,841.10V842.90M139.30,841.10V844.30M150.88,841.10V842.90M162.45,841.10V844.30M174.03,841.10V842.90M185.60,841.10V844.30M197.18,841.10V842.90M208.75,841.10V844.30M220.32,841.10V842.90M231.90,841.10V844.30M243.48,841.10V842.90M255.05,841.10V844.30M266.62,841.10V842.90M278.20,841.10V844.30M289.78,841.10V842.90M301.35,841.10V844.30M312.93,841.10V842.90M324.50,841.10V844.30M336.07,841.10V842.90M347.65,841.10V844.30" fill="none" stroke="#8a8a8a" stroke-width="1"/>
<path d="M46.70,629.10V841.10H347.65" fill="none" stroke="#8a8a8a" stroke-width="1"/>
<text x="41.30" y="843.00" text-anchor="end">-0.05</text>
<text x="41.30" y="821.80" text-anchor="end">-0.04</text>
<text x="41.30" y="800.60" text-anchor="end">-0.03</text>
<text x="41.30" y="779.40" text-anchor="end">-0.02</text>
<text x="41.30" y="758.20" text-anchor="end">-0.01</text>
<text x="41.30" y="737.00" text-anchor="end">0.00</text>
<text x="41.30" y="715.80" text-anchor="end">0.01</text>
<text x="41.30" y="694.60" text-anchor="end">0.02</text>
<text x="41.30" y="673.40" text-anchor="end">0.03</text>
<text x="41.30" y="652.20" text-anchor="end">0.04</text>
<text x="41.30" y="631.00" text-anchor="end">0.05</text>
<text x="46.70" y="853.70" text-anchor="middle">0</text>
<text x="69.85" y="853.70" text-anchor="middle">100</text>
<text x="93.00" y="853.70" text-anchor="middle">200</text>
<text x="116.15" y="853.70" text-anchor="middle">300</text>
<text x="139.30" y="853.70" text-anchor="middle">400</text>
<text x="162.45" y="853.70" text-anchor="middle">500</text>
<text x="185.60" y="853.70" text-anchor="middle">600</text>
<text x="208.75" y="853.70" text-anchor="middle">700</text>
<text x="231.90" y="853.70" text-anchor="middle">800</text>
<text x="255.05" y="853.70" text-anchor="middle">900</text>
<text x="278.20" y="853.70" text-anchor="middle">1000</text>
<text x="301.35" y="853.70" text-anchor="middle">1100</text>
<text x="324.50" y="853.70" text-anchor="middle">1200</text>
<text x="347.65" y="853.70" text-anchor="middle">1300</text>
<text x="196.88" y="871.00" text-anchor="middle">Pipe length (m)</text>
<text transform="translate(7.7,728.35) rotate(-90)" text-anchor="middle" class="yt">Angular displacement (degree)</text>
<rect x="51.50" y="654.50" width="6.00" height="128.00" fill="none" stroke="#dc6cb0" stroke-width="1"/>
<rect x="122.50" y="686.50" width="10.00" height="126.00" fill="none" stroke="#dc6cb0" stroke-width="1"/>
<rect x="219.50" y="698.50" width="6.00" height="105.00" fill="none" stroke="#dc6cb0" stroke-width="1"/>
<rect x="321.50" y="669.50" width="10.00" height="101.00" fill="none" stroke="#dc6cb0" stroke-width="1"/>
<path d="M46.70,735.10 L334.30,735.10" fill="none" stroke="#e42a3a" stroke-width="1.8" stroke-linejoin="round" stroke-linecap="butt"/>
<path d="M46.70,735.10 L47.30,740.40 L49.10,725.98 L51.20,751.21 L53.60,660.69 L55.00,777.50 L57.10,732.56 L58.80,735.10 L119.50,735.10 L120.90,739.34 L123.70,719.20 L126.20,808.45 L126.90,691.64 L129.00,737.22 L130.30,735.10 L215.00,735.10 L216.70,738.70 L218.90,723.44 L221.80,797.22 L223.10,704.57 L225.10,737.22 L226.50,735.10 L319.50,735.10 L320.90,732.13 L323.60,746.76 L325.60,674.04 L327.40,766.05 L329.60,732.56 L331.20,735.10 L334.30,735.10" fill="none" stroke="#c9711f" stroke-width="1.55" stroke-linejoin="round" stroke-linecap="butt"/>
<path d="M46.70,735.10 L47.30,740.40 L49.10,725.98 L51.20,745.70 L53.60,685.92 L55.00,763.30 L57.10,732.56 L58.80,735.10 L119.50,735.10 L120.90,739.34 L123.70,724.50 L126.20,784.07 L126.90,706.48 L129.00,737.22 L130.30,735.10 L215.00,735.10 L216.70,738.70 L218.90,726.62 L221.80,777.29 L223.10,714.54 L225.10,737.22 L226.50,735.10 L319.50,735.10 L320.90,732.13 L323.60,743.58 L325.60,694.18 L327.40,756.72 L329.60,732.56 L331.20,735.10 L334.30,735.10" fill="none" stroke="#7c28d8" stroke-width="1.55" stroke-linejoin="round" stroke-linecap="butt"/>
<text class="bd" x="48.20" y="648.40">Bend 1</text>
<text class="bd" x="114.00" y="683.50">Bend 2</text>
<text class="bd" x="207.30" y="695.20">Bend 3</text>
<text class="bd" x="312.70" y="666.50">Bend 4</text>
<path d="M129.00,605.60H150.60" stroke="#0c0c44" stroke-width="1.55"/>
<text x="153.30" y="608.50">W+P2+T2</text>
<path d="M129.00,617.30H150.60" stroke="#e42a3a" stroke-width="1.55"/>
<text x="153.30" y="620.20">W+P2</text>
<path d="M129.00,628.90H150.60" stroke="#35a06a" stroke-width="1.55"/>
<text x="153.30" y="631.80">T2</text>
<path d="M129.00,640.30H150.60" stroke="#c9711f" stroke-width="1.55"/>
<text x="153.30" y="643.20">W+P2+T2+F2</text>
<path d="M129.00,651.80H150.60" stroke="#7c28d8" stroke-width="1.55"/>
<text x="153.30" y="654.70">WW+HP+T4</text>
</svg>
</body></html>
